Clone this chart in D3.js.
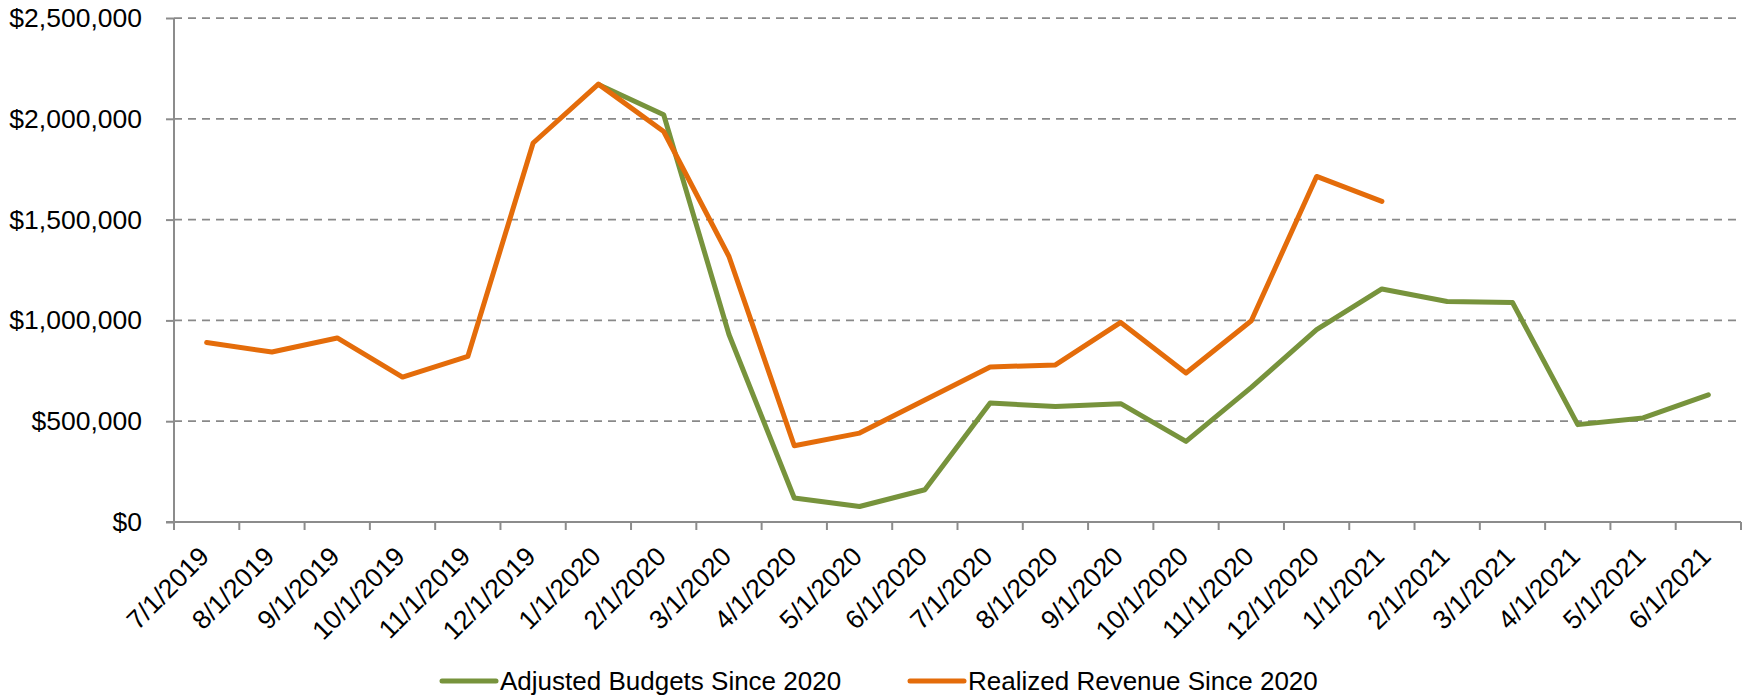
<!DOCTYPE html>
<html>
<head>
<meta charset="utf-8">
<script src="https://cdnjs.cloudflare.com/ajax/libs/d3/7.8.5/d3.min.js"></script>
<style>
  body { margin: 0; background: #fff; }
  text { font-family: "Liberation Sans", Arial, sans-serif; fill: #000; }
</style>
</head>
<body>
<div id="chart"></div>
<script>
var categories = ["7/1/2019", "8/1/2019", "9/1/2019", "10/1/2019", "11/1/2019", "12/1/2019",
  "1/1/2020", "2/1/2020", "3/1/2020", "4/1/2020", "5/1/2020", "6/1/2020",
  "7/1/2020", "8/1/2020", "9/1/2020", "10/1/2020", "11/1/2020", "12/1/2020",
  "1/1/2021", "2/1/2021", "3/1/2021", "4/1/2021", "5/1/2021", "6/1/2021"];

var budgets = [null, null, null, null, null, null,
  2170000, 2020000, 930000, 119000, 77000, 160000,
  590000, 573000, 587000, 400000, 668000, 954000,
  1156000, 1094000, 1089000, 483000, 516000, 631000];

var revenue = [890000, 843000, 913000, 719000, 821000, 1880000,
  2172000, 1937000, 1317000, 378000, 441000, 605000,
  769000, 779000, 990000, 739000, 998000, 1714000,
  1590000, null, null, null, null, null];

var yTicks = [0, 500000, 1000000, 1500000, 2000000, 2500000];

var seriesNames = ["Adjusted Budgets Since 2020", "Realized Revenue Since 2020"];
var seriesColors = ["#77933C", "#E46C0A"];

var padding = {top: 18, right: 3, bottom: 175, left: 174};
var totalWidth = 1744;
var totalHeight = 697;
var width = totalWidth - padding.left - padding.right;
var height = totalHeight - padding.top - padding.bottom;

var x = d3.scaleBand()
  .domain(categories)
  .range([0, width]);

var y = d3.scaleLinear()
  .domain([0, 2500000])
  .range([height, 0]);

var svg = d3.select("#chart").append("svg")
    .attr("width", totalWidth)
    .attr("height", totalHeight);

var canvas = svg.append("g")
    .attr("transform", "translate(" + padding.left + ", " + padding.top + ")");

// dashed gridlines (not at zero)
canvas.selectAll(".grid")
  .data(yTicks.filter(function(d) { return d > 0; }))
  .enter().append("line")
    .attr("class", "grid")
    .attr("x1", 0)
    .attr("x2", width)
    .attr("y1", function(d) { return y(d); })
    .attr("y2", function(d) { return y(d); })
    .attr("stroke", "#898989")
    .attr("stroke-width", 1.75)
    .attr("stroke-dasharray", "8,6");

// y axis
var yAxis = d3.axisLeft(y)
  .tickValues(yTicks)
  .tickSize(8)
  .tickPadding(24)
  .tickFormat(function(d) { return "$" + d3.format(",")(d); });

var yG = canvas.append("g").call(yAxis);
yG.select(".domain").attr("stroke", "#8c8c8c").attr("stroke-width", 2)
  .attr("d", "M0," + y(2500000) + "V" + height);
yG.selectAll(".tick line").attr("stroke", "#8c8c8c").attr("stroke-width", 2);
yG.selectAll(".tick text")
  .style("font-size", "26.5px")
  .attr("fill", "#000")
  .attr("font-family", "Liberation Sans, Arial, sans-serif");

// x axis line and ticks at band edges
var xG = canvas.append("g")
  .attr("transform", "translate(0, " + height + ")");

xG.append("line")
  .attr("x1", -8)
  .attr("x2", width)
  .attr("stroke", "#8c8c8c")
  .attr("stroke-width", 2);

var edges = categories.map(function(d) { return x(d); }).concat([width]);
xG.selectAll(".xtick")
  .data(edges)
  .enter().append("line")
    .attr("class", "xtick")
    .attr("x1", function(d) { return d; })
    .attr("x2", function(d) { return d; })
    .attr("y1", 0)
    .attr("y2", 8)
    .attr("stroke", "#8c8c8c")
    .attr("stroke-width", 2);

xG.selectAll(".xlabel")
  .data(categories)
  .enter().append("text")
    .attr("class", "xlabel")
    .attr("text-anchor", "end")
    .style("font-size", "26.5px")
    .attr("transform", function(d) {
      return "translate(" + (x(d) + x.bandwidth() / 2 + 4) + ", 36) rotate(-45)";
    })
    .text(function(d) { return d; });

// lines
var line = d3.line()
  .defined(function(d) { return d.v !== null; })
  .x(function(d) { return x(d.c) + x.bandwidth() / 2; })
  .y(function(d) { return y(d.v); });

[budgets, revenue].forEach(function(vals, i) {
  var pts = categories.map(function(c, j) { return {c: c, v: vals[j]}; });
  canvas.append("path")
    .datum(pts)
    .attr("fill", "none")
    .attr("stroke", seriesColors[i])
    .attr("stroke-width", 5)
    .attr("stroke-linejoin", "round")
    .attr("stroke-linecap", "round")
    .attr("d", line);
});

// legend
var legendX = [442, 910];
var legend = svg.selectAll(".legend")
  .data(seriesNames)
  .enter().append("g")
    .attr("class", "legend")
    .attr("transform", function(d, i) { return "translate(" + legendX[i] + ", 681)"; });

legend.append("line")
  .attr("x1", 0)
  .attr("x2", 54)
  .attr("stroke", function(d, i) { return seriesColors[i]; })
  .attr("stroke-width", 5)
  .attr("stroke-linecap", "round");

legend.append("text")
  .attr("x", 58)
  .attr("y", 9)
  .style("font-size", "26px")
  .text(function(d) { return d; });
</script>
</body>
</html>
